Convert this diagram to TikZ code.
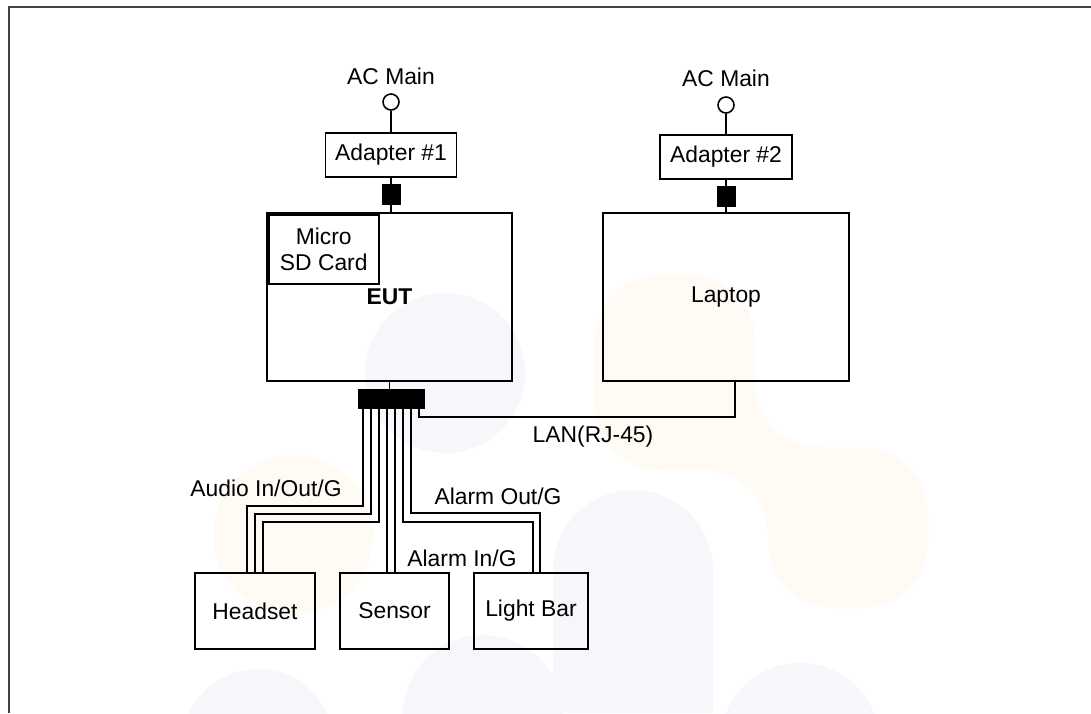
\documentclass[tikz,border=0pt]{standalone}
\usepackage{fontspec}
\setmainfont{Liberation Sans}
\definecolor{markblue}{HTML}{F6F7FA}
\definecolor{markorange}{HTML}{FFFAF3}
\definecolor{framegray}{HTML}{444444}
\tikzset{
  unit/.style={draw, line width=1pt, inner sep=0pt, font=\fontsize{13}{14.5}\selectfont},
  plugbox/.style={draw, fill=black, inner sep=0pt, minimum width=0.36cm, minimum height=0.4cm},
  acport/.style={draw, circle, line width=0.9pt, inner sep=0pt, minimum size=0.32cm},
  wire/.style={line width=1pt},
  tag/.style={inner sep=0pt, font=\fontsize{13}{14.5}\selectfont}
}

\begin{document}
\begin{tikzpicture}[x=0.02cm, y=-0.02cm]
\useasboundingbox (0,0) rectangle (1091,713);
% faint watermark
\fill[markblue] (445,373) circle (80);
\fill[markblue] (633,570) circle (80);
\fill[markblue] (553,570) rectangle (713,713);
\fill[markblue] (800,743) circle (80);
\fill[markblue] (483,715) circle (80);
\fill[markblue] (258,745) circle (76);
\fill[markorange] (293,535) circle (80);
\fill[markorange, rounded corners=1.3cm] (595,275) -- (755,275) -- (755,447) -- (928,447)
  -- (928,608) -- (768,608) -- (768,470) -- (595,470) -- cycle;
\draw[framegray, line width=1.2pt] (9,713) -- (9,7) -- (1091,7);

% power side
\node[acport] (ac1) at (391,102) {};
\node[acport] (ac2) at (726,105) {};
\node[tag] at (391,76) {AC Main};
\node[tag] at (726,78) {AC Main};
\node[unit, minimum width=2.62cm, minimum height=0.88cm] (ad1) at (391,155) {Adapter \#1};
\node[unit, minimum width=2.64cm, minimum height=0.88cm] (ad2) at (726,157) {Adapter \#2};
\node[plugbox] (plug1) at (391,194) {};
\node[plugbox] (plug2) at (726,196.5) {};

% main units
\node[unit, minimum width=4.9cm, minimum height=3.36cm, font=\fontsize{13}{14.5}\selectfont\bfseries] (eut) at (389.5,297) {EUT};
\node[unit, minimum width=4.92cm, minimum height=3.36cm] (laptop) at (726,297) {Laptop};
\node[unit, line width=1.3pt, align=center, minimum width=2.2cm, minimum height=1.38cm, anchor=north west]
  (sd) at ([xshift=0.03cm,yshift=-0.03cm]eut.north west) {Micro\\SD Card};
\node[draw, fill=black, inner sep=0pt, minimum width=1.32cm, minimum height=0.38cm] (hub) at (391,398.5) {};

% peripherals
\node[unit, minimum width=2.4cm, minimum height=1.52cm] (headset) at (255,611) {Headset};
\node[unit, minimum width=2.18cm, minimum height=1.52cm] (sensor) at (394.5,611) {Sensor};
\node[unit, minimum width=2.28cm, minimum height=1.52cm] (lightbar) at (531,611) {Light Bar};

% power lines
\draw[wire] (ac1) -- (ad1);
\draw[wire] (ad1) -- (plug1);
\draw[wire] (plug1) -- (plug1 |- eut.north);
\draw[wire] (ac2) -- (ad2);
\draw[wire] (ad2) -- (plug2);
\draw[wire] (plug2) -- (laptop);
\draw[wire] (eut.south) -- (eut.south |- hub.north);

% cable bundle
\draw[wire] (hub.south) ++(-28,0) |- ([xshift=-0.16cm,yshift=1.32cm]headset.north) -- ([xshift=-0.16cm]headset.north);
\draw[wire] (hub.south) ++(-20,0) |- ([yshift=1.16cm]headset.north) -- (headset.north);
\draw[wire] (hub.south) ++(-12,0) |- ([xshift=0.16cm,yshift=1cm]headset.north) -- ([xshift=0.16cm]headset.north);
\draw[wire] ([xshift=-0.08cm]hub.south) -- ([xshift=-0.08cm]hub.south |- sensor.north);
\draw[wire] ([xshift=0.08cm]hub.south) -- ([xshift=0.08cm]hub.south |- sensor.north);
\draw[wire] (hub.south) ++(12,0) |- ([xshift=0.04cm,yshift=1cm]lightbar.north) -- ([xshift=0.04cm]lightbar.north);
\draw[wire] (hub.south) ++(20,0) |- ([xshift=0.18cm,yshift=1.18cm]lightbar.north) -- ([xshift=0.18cm]lightbar.north);
\draw[wire] (hub.south) ++(28,0) -- ++(0,9) -| ([xshift=0.18cm]laptop.south);

% cable labels
\node[tag] at (593,437) {LAN(RJ-45)};
\node[tag] at (266,488) {Audio In/Out/G};
\node[tag] at (498,496) {Alarm Out/G};
\node[tag] at (462,558) {Alarm In/G};
\end{tikzpicture}
\end{document}
